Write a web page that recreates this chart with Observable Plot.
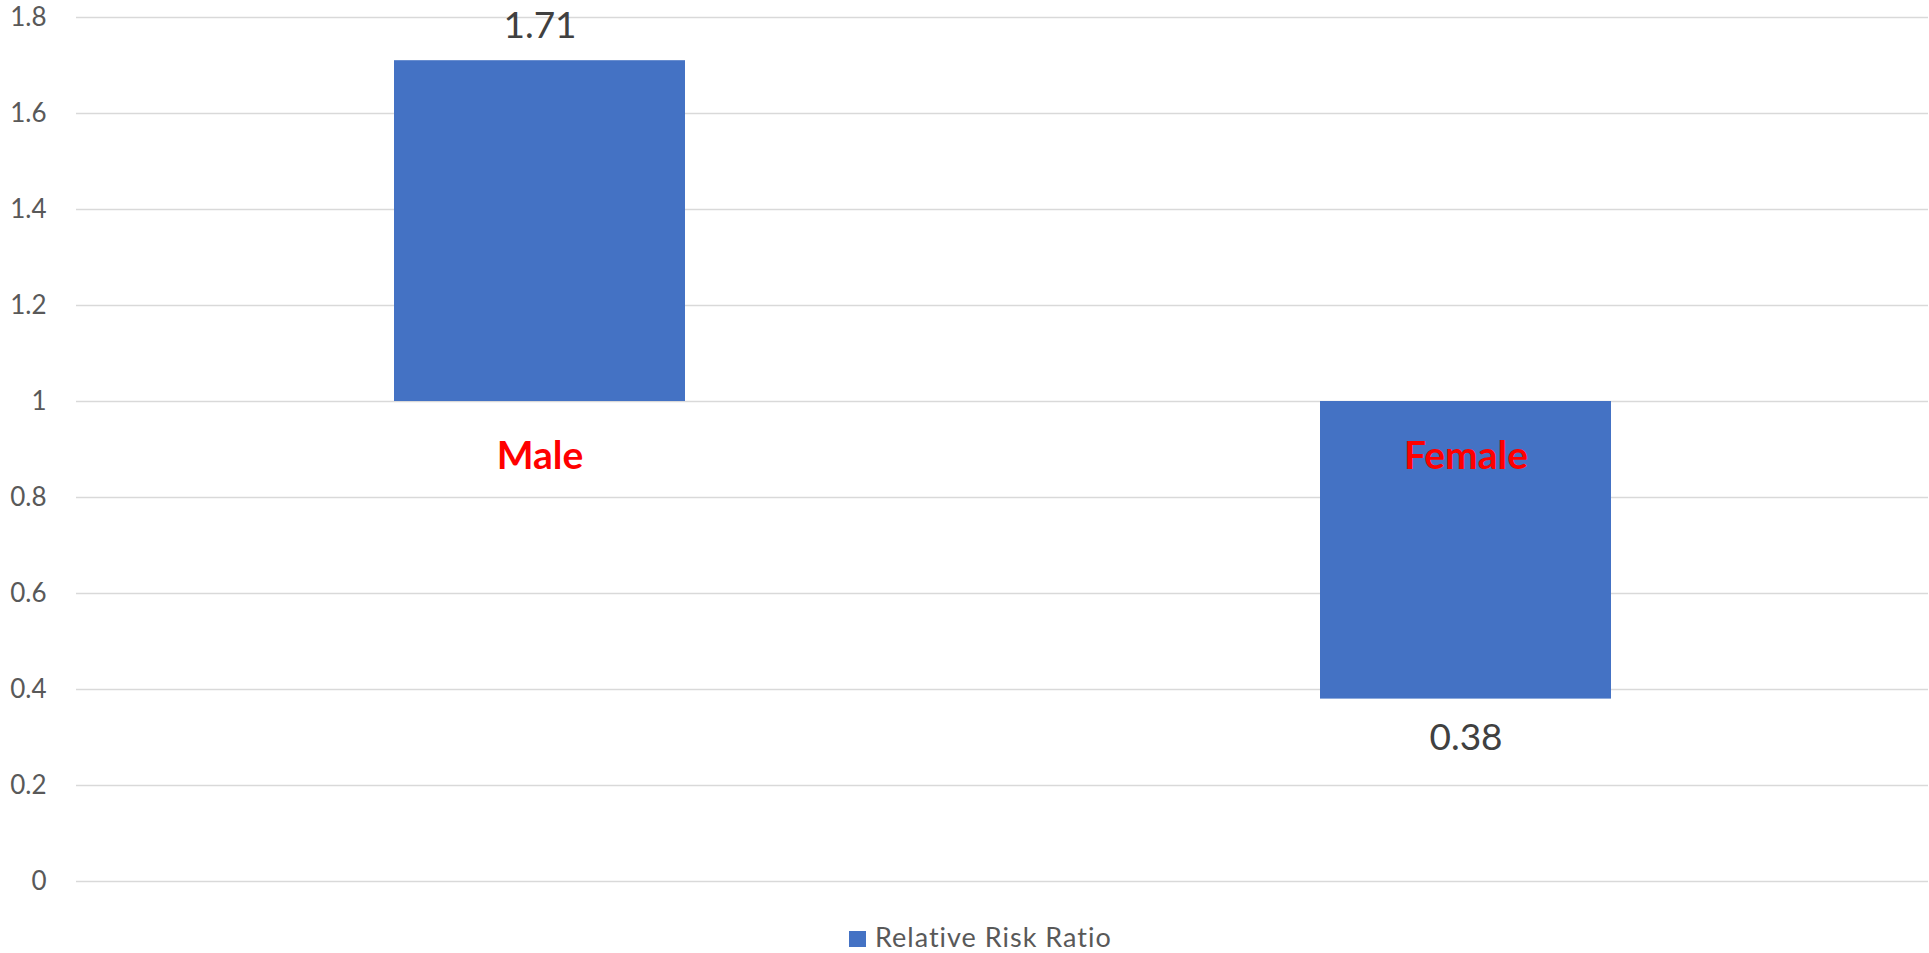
<!DOCTYPE html>
<html><head><meta charset="utf-8">
<script src="https://cdn.jsdelivr.net/npm/d3@7"></script>
<script src="https://cdn.jsdelivr.net/npm/@observablehq/plot@0.6"></script>
<style>
html,body{margin:0;padding:0;background:#fff;}
#chart svg{display:block;}
#legend{position:relative;height:48px;font-family:Lato,"Noto Sans",sans-serif;font-size:27px;color:#595959;}
#legend .sw{position:absolute;left:849px;top:26px;width:17px;height:16px;background:#4472c4;}
#legend .lt{position:absolute;left:875px;top:18px;line-height:27px;letter-spacing:1px;white-space:nowrap;}
</style></head><body>
<div id="chart"></div>
<div id="legend"><span class="sw"></span><span class="lt" id="lt"></span></div>
<script>
const categories = ["Male", "Female"];
const values = [1.71, 0.38];
const baseline = 1;
const yTicks = [0, 0.2, 0.4, 0.6, 0.8, 1, 1.2, 1.4, 1.6, 1.8];
const seriesName = "Relative Risk Ratio";

const data = categories.map((c, i) => ({category: c, value: values[i], base: baseline}));
const fontFamily = 'Lato, "Noto Sans", sans-serif';

const chart = Plot.plot({
  width: 1929,
  height: 905,
  marginTop: 17,
  marginBottom: 24,
  marginLeft: 76,
  marginRight: 1,
  style: {fontFamily, background: "#fff"},
  x: {domain: categories, paddingInner: 0.686, paddingOuter: 0.343, axis: null},
  y: {domain: [0, 1.8], axis: null},
  marks: [
    Plot.gridY(yTicks, {stroke: "#d9d9d9", strokeOpacity: 1, strokeWidth: 1.5}),
    Plot.axisY(yTicks, {tickSize: 0, tickPadding: 30, tickFormat: d => String(d), fontSize: 26, fill: "#595959", label: null}),
    Plot.barY(data, {x: "category", y1: "base", y2: "value", fill: "#4472c4"}),
    Plot.text(data.filter(d => d.value >= d.base), {x: "category", y: "value", text: d => String(d.value), lineAnchor: "bottom", dy: -23, fontSize: 37, fill: "#404040"}),
    Plot.text(data.filter(d => d.value < d.base), {x: "category", y: "value", text: d => String(d.value), lineAnchor: "bottom", dy: 51, fontSize: 37, fill: "#404040"}),
    Plot.text(data, {x: "category", y: "base", text: "category", lineAnchor: "bottom", dy: 67, fontSize: 39, fontWeight: "bold", fill: "#ff0000"})
  ]
});
document.getElementById("chart").appendChild(chart);
document.getElementById("lt").textContent = seriesName;
</script>
</body></html>
